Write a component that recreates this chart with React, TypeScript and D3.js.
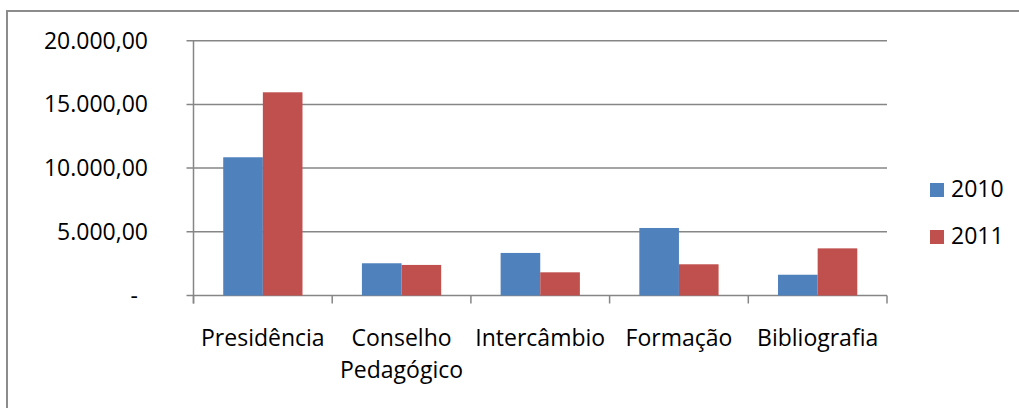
import React, { useEffect, useRef } from 'react';
import * as d3 from 'd3';

const categories = ['Presidência', 'Conselho Pedagógico', 'Intercâmbio', 'Formação', 'Bibliografia'];
const series = ['2010', '2011'];
const values2010 = [10850, 2530, 3340, 5300, 1630];
const values2011 = [15950, 2400, 1820, 2450, 3700];
const yTicks = [0, 5000, 10000, 15000, 20000];
const yTickLabels = ['-', '5.000,00', '10.000,00', '15.000,00', '20.000,00'];
const colors = ['#4F81BD', '#C0504D'];

const W = 1019;
const H = 408;
const FONT = '"Open Sans", sans-serif';
const FS = 23;

const App = () => {
  const svgRef = useRef<SVGSVGElement>(null);

  useEffect(() => {
    const svg = d3.select(svgRef.current);
    svg.selectAll('*').remove();

    const left = 193.5;
    const right = 887;
    const top = 40.7;
    const bottom = 295.5;

    const x = d3.scaleBand().domain(categories).range([left, right]).paddingInner(0).paddingOuter(0);
    const xs = d3.scaleBand().domain(series).range([0, x.bandwidth()]).paddingInner(0).paddingOuter(0.75);
    const y = d3.scaleLinear().domain([0, 20000]).range([bottom, top]);

    // outer frame (runs off the picture to the right and bottom)
    svg.append('rect')
      .attr('x', 7).attr('y', 11)
      .attr('width', W + 20).attr('height', H + 20)
      .attr('fill', 'none')
      .attr('stroke', '#8c8c8c')
      .attr('stroke-width', 2);

    const grid = svg.append('g');
    yTicks.forEach((t, i) => {
      grid.append('line')
        .attr('x1', left - 7).attr('x2', right)
        .attr('y1', y(t)).attr('y2', y(t))
        .attr('stroke', '#868686')
        .attr('stroke-width', 1.5);
      grid.append('text')
        .attr('x', t === 0 ? 138 : 148)
        .attr('y', y(t) + 8)
        .attr('text-anchor', 'end')
        .attr('font-family', FONT)
        .attr('font-size', FS)
        .attr('fill', '#000')
        .text(yTickLabels[i]);
    });

    // y axis line
    grid.append('line')
      .attr('x1', left).attr('x2', left)
      .attr('y1', top).attr('y2', bottom + 8)
      .attr('stroke', '#868686')
      .attr('stroke-width', 1.5);

    // category ticks
    const bounds = categories.map(c => x(c) as number).concat([right]);
    bounds.forEach(b => {
      grid.append('line')
        .attr('x1', b).attr('x2', b)
        .attr('y1', bottom).attr('y2', bottom + 8)
        .attr('stroke', '#868686')
        .attr('stroke-width', 1.5);
    });

    const data = categories.map((c, i) => ({ c, vals: [values2010[i], values2011[i]] }));
    const groups = svg.append('g').selectAll('g')
      .data(data)
      .join('g')
      .attr('transform', d => `translate(${x(d.c)},0)`);

    groups.selectAll('rect')
      .data(d => d.vals.map((v, i) => ({ s: series[i], v, i })))
      .join('rect')
      .attr('x', d => xs(d.s) as number)
      .attr('width', xs.bandwidth())
      .attr('y', d => y(d.v))
      .attr('height', d => bottom - y(d.v))
      .attr('fill', d => colors[d.i]);

    // category labels, wrapped to the band width
    const labels = svg.append('g');
    categories.forEach(c => {
      const cx = (x(c) as number) + x.bandwidth() / 2;
      const t = labels.append('text')
        .attr('x', cx).attr('y', 346)
        .attr('text-anchor', 'middle')
        .attr('font-family', FONT)
        .attr('font-size', FS)
        .attr('fill', '#000');
      const words = c.split(' ');
      let line: string[] = [];
      let ts = t.append('tspan').attr('x', cx).attr('dy', 0);
      words.forEach(w => {
        line.push(w);
        ts.text(line.join(' '));
        const node = ts.node() as SVGTSpanElement;
        if (node.getComputedTextLength() > x.bandwidth() - 2 && line.length > 1) {
          line.pop();
          ts.text(line.join(' '));
          line = [w];
          ts = t.append('tspan').attr('x', cx).attr('dy', 32).text(w);
        }
      });
    });

    // legend
    const legend = svg.append('g');
    series.forEach((s, i) => {
      legend.append('rect')
        .attr('x', 930).attr('y', 183 + i * 47)
        .attr('width', 14).attr('height', 14)
        .attr('fill', colors[i]);
      legend.append('text')
        .attr('x', 951).attr('y', 197 + i * 47)
        .attr('font-family', FONT)
        .attr('font-size', FS)
        .attr('fill', '#000')
        .text(s);
    });
  }, []);

  return (
    <div style={{ position: 'fixed', left: 0, top: 0, width: W, height: H, background: '#fff' }}>
      <svg ref={svgRef} width={W} height={H} style={{ display: 'block' }} />
    </div>
  );
};

export default App;
